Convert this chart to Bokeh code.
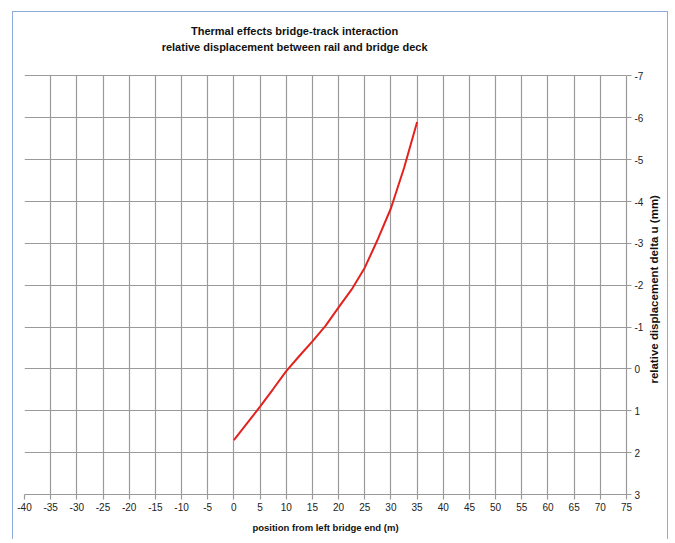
import math
from bokeh.plotting import figure
from bokeh.models import Range1d, FixedTicker, Label, LinearAxis
from bokeh.embed import file_html
from bokeh.resources import INLINE

# data
position_m = [0, 2.5, 5, 7.5, 10, 12.5, 15, 17.5, 20, 22.5, 25, 27.5, 30, 32.5, 35]
delta_u_mm = [1.70, 1.30, 0.90, 0.48, 0.05, -0.31, -0.66, -1.03, -1.47, -1.90, -2.42, -3.10, -3.84, -4.80, -5.90]
x_ticks = list(range(-40, 80, 5))
y_ticks = list(range(-7, 4, 1))
x_tick_labels = [str(v) for v in x_ticks]
y_tick_labels = [str(v) for v in y_ticks]
title_lines = ["Thermal effects bridge-track interaction",
               "relative displacement between rail and bridge deck"]
x_title = "position from left bridge end (m)"
y_title = "relative displacement delta u (mm)"

FONT = "'Liberation Sans', Arial, sans-serif"
GRID = "#9a9a9a"
BORDER = "1px solid #8eaadb"

# the frame is extended above -7 so that the chart title can sit inside it
p = figure(width=656, height=528, output_backend="svg", toolbar_location=None, title=None,
           x_range=Range1d(-40, 75), y_range=Range1d(3, -8.326),
           y_axis_location="right",
           min_border_left=11, min_border_right=41, min_border_top=8, min_border_bottom=46,
           styles={"margin-left": "12px", "margin-top": "11px",
                   "border-top": BORDER, "border-left": BORDER, "border-right": BORDER})
p.background_fill_color = "white"
p.border_fill_color = "white"
p.outline_line_color = None

p.xaxis.ticker = FixedTicker(ticks=x_ticks)
p.yaxis.ticker = FixedTicker(ticks=y_ticks)
p.xaxis.major_label_overrides = dict(zip(x_ticks, x_tick_labels))
p.yaxis.major_label_overrides = dict(zip(y_ticks, y_tick_labels))
p.yaxis.bounds = (-7, 3)
for ax in (p.xaxis, p.yaxis):
    ax.axis_line_color = GRID
    ax.axis_line_width = 1.2
    ax.major_tick_line_color = GRID
    ax.major_tick_line_width = 1.2
    ax.major_tick_in = 0
    ax.major_tick_out = 5
    ax.minor_tick_line_color = None
    ax.major_label_text_font = FONT
    ax.major_label_text_font_size = "10px"
    ax.major_label_text_color = "#222222"
p.xaxis.major_label_standoff = 3
p.yaxis.major_label_standoff = 3
p.xaxis.axis_label = x_title
p.xaxis.axis_label_standoff = 8
p.xaxis.axis_label_text_font = FONT
p.xaxis.axis_label_text_font_size = "9.5px"
p.xaxis.axis_label_text_font_style = "bold"
p.xaxis.axis_label_text_color = "#111111"

# y-axis title, drawn as the single label of a bare secondary axis on the right
y_title_at = 0.35
ytitle_axis = LinearAxis(ticker=FixedTicker(ticks=[y_title_at]),
                         major_label_overrides={y_title_at: y_title},
                         major_label_orientation=math.pi / 2,
                         major_label_standoff=8,
                         major_label_text_font=FONT, major_label_text_font_size="11.5px",
                         major_label_text_font_style="bold", major_label_text_color="#111111",
                         axis_line_color=None, major_tick_line_color=None,
                         minor_tick_line_color=None, major_tick_out=0, major_tick_in=0)
p.add_layout(ytitle_axis, "right")

p.xgrid.ticker = FixedTicker(ticks=x_ticks)
p.ygrid.ticker = FixedTicker(ticks=y_ticks)
for g in (p.xgrid, p.ygrid):
    g.grid_line_color = GRID
    g.grid_line_width = 1.2
xg = p.xgrid[0]
if "cross_bounds" in xg.properties():
    xg.cross_bounds = (-7, 3)

p.line(position_m, delta_u_mm, line_color="#e3221e", line_width=2)

for txt, ty in ((title_lines[0], -8.087), (title_lines[1], -7.681)):
    p.add_layout(Label(x=11.6, y=ty, text=txt, text_align="center", text_baseline="middle",
                       text_font=FONT, text_font_size="11px", text_font_style="bold",
                       text_color="#111111"))

open("out.html", "w").write(file_html(p, INLINE))
